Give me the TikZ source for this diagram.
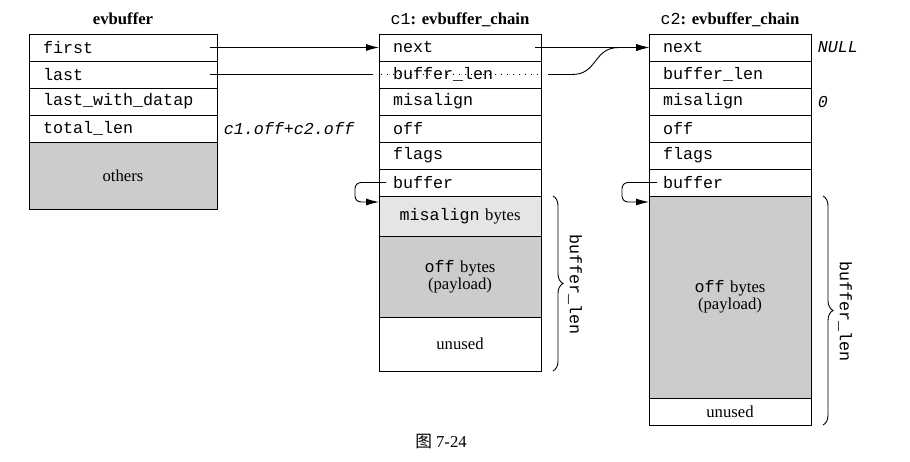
\documentclass[tikz,border=0pt]{standalone}
\usepackage{fontspec}
\setmainfont{Liberation Serif}
\setmonofont{Liberation Mono}
\newfontfamily\cjkfont{Noto Sans CJK SC}
\usetikzlibrary{positioning,arrows.meta,decorations.pathreplacing}
\newcommand\figfont{\fontsize{16.7}{17}\selectfont}
\tikzset{
    field/.style = {
        draw,
        outer sep=0pt,
        inner xsep=14pt,
        inner ysep=0pt,
        minimum height=27pt,
        align=left,
        font=\figfont\ttfamily,
        },
    wide/.style = {
        text width=160pt,
        },
    narrow/.style = {
        text width=134pt,
        },
    block/.style = {
        draw,
        outer sep=0pt,
        inner xsep=14pt,
        text width=134pt,
        align=center,
        font=\figfont,
        },
    payload/.style = {
        fill = black!20,
        },
    padding/.style = {
        fill = black!10,
        },
    title/.style = {
        anchor=base,
        font=\figfont\bfseries,
        },
    value/.style = {
        anchor=west,
        font=\figfont\ttfamily\itshape,
        },
    ptr/.style = {
        -{Latex[length=13pt,width=7pt]},
        },
    through/.style = {
        line width=1pt,
        dash pattern=on 1.2pt off 4.8pt,
        },
    len brace/.style = {
        decorate,
        decoration={brace, amplitude=10pt},
        },
    len label/.style = {
        rotate=-90,
        font=\figfont\ttfamily,
        },
}

\begin{document}
\begin{tikzpicture}[x=1pt, y=-1pt, line width=0.9pt]
    \useasboundingbox (0,0) rectangle (910,461);

    % evbuffer
    \node[field, wide, anchor=north west] (ef) at (29,34) {first};
    \node[field, wide, below=0pt of ef] (el) {last};
    \node[field, wide, below=0pt of el] (ed) {last\_with\_datap};
    \node[field, wide, below=0pt of ed] (et) {total\_len};
    \node[block, payload, text width=160pt, minimum height=67pt, below=0pt of et] (eo) {others};
    \node[title] (etitle) at ([yshift=10pt]ef.north) {evbuffer};
    \node[value, xshift=3pt] (etot) at (et.east) {c1.off+c2.off};

    % c1
    \node[field, narrow, anchor=north west] (c1next) at (379,34) {next};
    \node[field, narrow, below=0pt of c1next] (c1len) {buffer\_len};
    \node[field, narrow, below=0pt of c1len] (c1mis) {misalign};
    \node[field, narrow, below=0pt of c1mis] (c1off) {off};
    \node[field, narrow, below=0pt of c1off] (c1flags) {flags};
    \node[field, narrow, below=0pt of c1flags] (c1buf) {buffer};
    \node[block, padding, minimum height=40pt, below=0pt of c1buf] (c1pad) {\texttt{misalign} bytes};
    \node[block, payload, minimum height=81pt, below=0pt of c1pad] (c1data) {\texttt{off} bytes\\(payload)};
    \node[block, minimum height=54pt, below=0pt of c1data] (c1free) {unused};
    \node[title] (c1title) at ([yshift=10pt]c1next.north) {{\mdseries\ttfamily c1}: evbuffer\_chain};

    % c2
    \node[field, narrow, anchor=north west] (c2next) at (649,34) {next};
    \node[field, narrow, below=0pt of c2next] (c2len) {buffer\_len};
    \node[field, narrow, below=0pt of c2len] (c2mis) {misalign};
    \node[field, narrow, below=0pt of c2mis] (c2off) {off};
    \node[field, narrow, below=0pt of c2off] (c2flags) {flags};
    \node[field, narrow, below=0pt of c2flags] (c2buf) {buffer};
    \node[block, payload, minimum height=202pt, below=0pt of c2buf] (c2data) {\texttt{off} bytes\\(payload)};
    \node[block, minimum height=27pt, below=0pt of c2data] (c2free) {unused};
    \node[title] (c2title) at ([yshift=10pt]c2next.north) {{\mdseries\ttfamily c2}: evbuffer\_chain};
    \node[value, xshift=3pt] (c2null) at (c2next.east) {NULL};
    \node[value, xshift=3pt] (c2zero) at (c2mis.east) {0};

    % pointers
    \draw[ptr] ([xshift=-7pt]ef.east) -- (c1next.west);
    \draw ([xshift=-7pt]el.east) -- ([xshift=-6pt]c1len.west);
    \draw[through] ([xshift=2pt]c1len.west) -- ([xshift=-3pt]c1len.east);
    \draw[ptr] ([xshift=7pt]c1len.east) -- ++(24,0)
        .. controls +(26,0) and +(-26,0) .. ([xshift=-30pt]c2next.west) -- (c2next.west);
    \draw[ptr] ([xshift=-6pt]c1next.east) -- (c2next.west);
    \draw[ptr, rounded corners=6pt] ([xshift=7pt]c1buf.west) -- ++(-31,0) |- ([yshift=-6pt]c1pad.north west);
    \draw[ptr, rounded corners=6pt] ([xshift=8pt]c2buf.west) -- ++(-35,0) |- ([yshift=-6pt]c2data.north west);

    % lengths
    \draw[len brace] ([xshift=12pt]c1pad.north east) -- coordinate[midway] (c1mid) ([xshift=12pt]c1free.south east);
    \node[len label] (c1lenlbl) at ([xshift=22pt, yshift=-1pt]c1mid) {buffer\_len};
    \draw[len brace] ([xshift=12pt]c2data.north east) -- coordinate[midway] (c2mid) ([xshift=12pt]c2free.south east);
    \node[len label] (c2lenlbl) at ([xshift=22pt, yshift=-1pt]c2mid) {buffer\_len};

    \node[anchor=base, font=\figfont] (caption) at (441,447) {{\cjkfont 图} 7-24};
\end{tikzpicture}
\end{document}
